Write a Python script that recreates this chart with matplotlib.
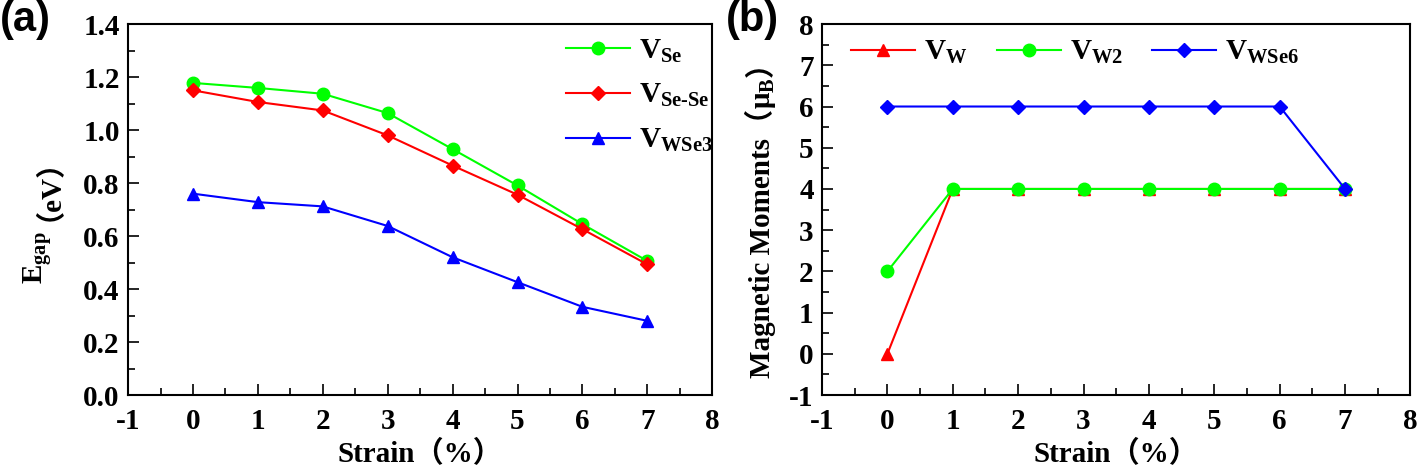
import numpy as np
import matplotlib
matplotlib.use("Agg")
import matplotlib.pyplot as plt
from matplotlib.ticker import MultipleLocator, FormatStrFormatter

plt.rcParams["font.family"] = ["Liberation Serif", "Noto Sans CJK SC"]
plt.rcParams["font.weight"] = "bold"
plt.rcParams["axes.unicode_minus"] = False
plt.rcParams["mathtext.fontset"] = "custom"
plt.rcParams["mathtext.rm"] = "Liberation Serif:bold"
plt.rcParams["mathtext.bf"] = "Liberation Serif:bold"
plt.rcParams["mathtext.it"] = "Liberation Serif:bold"

# ---- data ----
strain = [0, 1, 2, 3, 4, 5, 6, 7]

# (a) band gap (eV)
gap_vse = [1.178, 1.159, 1.137, 1.064, 0.928, 0.791, 0.645, 0.506]
gap_vsese = [1.150, 1.106, 1.074, 0.980, 0.866, 0.756, 0.626, 0.493]
gap_vwse3 = [0.760, 0.728, 0.712, 0.638, 0.520, 0.426, 0.333, 0.280]

# (b) magnetic moments (muB)
mm_vw = [0, 4, 4, 4, 4, 4, 4, 4]
mm_vw2 = [2, 4, 4, 4, 4, 4, 4, 4]
mm_vwse6 = [6, 6, 6, 6, 6, 6, 6, 4]

GREEN, RED, BLUE = "#00ff00", "#ff0000", "#0000ff"
TICK_FS = 21
LAB_FS = 21
LEG_FS = 21


def style_axes(ax, ymaj, ymin):
    ax.set_xlim(-1, 8)
    ax.xaxis.set_major_locator(MultipleLocator(1))
    ax.xaxis.set_minor_locator(MultipleLocator(0.5))
    ax.yaxis.set_major_locator(MultipleLocator(ymaj))
    ax.yaxis.set_minor_locator(MultipleLocator(ymin))
    ax.tick_params(which="both", direction="in", top=False, right=False,
                   labelsize=TICK_FS, width=1.2)
    ax.tick_params(which="major", length=8)
    ax.tick_params(which="minor", length=5)
    ax.tick_params(axis="x", pad=9)
    ax.tick_params(axis="y", pad=6)
    for s in ax.spines.values():
        s.set_linewidth(1.5)
    ax.set_xlabel("Strain（%）", fontsize=LAB_FS, fontweight="bold", labelpad=4)


def stacked_ylabel(ax, pieces, x, y0):
    """rotated label built from pieces sharing one baseline; (text, gap_pts)"""
    kw = dict(rotation=90, rotation_mode="anchor", ha="left", va="baseline",
              fontsize=LAB_FS, fontweight="bold")
    t = ax.text(x, y0, pieces[0][0], transform=ax.transAxes, **kw)
    for p, gap in pieces[1:]:
        t = ax.annotate(p, xy=(x, 1.0), xycoords=(ax.transAxes, t),
                        xytext=(0, gap), textcoords="offset points", **kw)
    return t


fig = plt.figure(figsize=(14.18, 4.72), dpi=100)
ax1 = fig.add_axes([0.0903, 0.163, 0.412, 0.786])
ax2 = fig.add_axes([0.5797, 0.163, 0.415, 0.786])

# ---- (a) ----
ax1.plot(strain, gap_vse, "-o", color=GREEN, lw=1.5, ms=9, label=r"$\mathbf{V}_{\mathbf{Se}}$")
ax1.plot(strain, gap_vsese, "-D", color=RED, lw=1.5, ms=7.5, label=r"$\mathbf{V}_{\mathbf{Se\text{-}Se}}$")
ax1.plot(strain, gap_vwse3, "-^", color=BLUE, lw=1.5, ms=9, label=r"$\mathbf{V}_{\mathbf{WSe3}}$")
ax1.set_ylim(0.0, 1.4)
style_axes(ax1, 0.2, 0.1)
ax1.yaxis.set_major_formatter(FormatStrFormatter("%.1f"))
ax1.legend(loc="upper left", bbox_to_anchor=(0.705, 1.035), frameon=False,
           fontsize=LEG_FS, handlelength=2.2, labelspacing=0.6, handletextpad=0.3)
stacked_ylabel(ax1, [(r"$\mathbf{E}_{\mathbf{gap}}$", 0), ("（eV）", 7)], -0.1455, 0.30)

# ---- (b) ----
ax2.plot(strain, mm_vw, "-^", color=RED, lw=1.5, ms=9, label=r"$\mathbf{V}_{\mathbf{W}}$")
ax2.plot(strain, mm_vw2, "-o", color=GREEN, lw=1.5, ms=9, label=r"$\mathbf{V}_{\mathbf{W2}}$")
ax2.plot(strain, mm_vwse6, "-D", color=BLUE, lw=1.5, ms=7.5, label=r"$\mathbf{V}_{\mathbf{WSe6}}$")
ax2.set_ylim(-1, 8)
style_axes(ax2, 1, 0.5)
ax2.legend(loc="upper left", bbox_to_anchor=(0.005, 1.03), frameon=False, ncol=3,
           fontsize=LEG_FS, handlelength=2.2, handletextpad=0.3, columnspacing=1.0)
stacked_ylabel(ax2, [("Magnetic Moments（", 0), (r"$\mathbf{μ}_{\mathbf{B}}$", 0),
                     ("）", 0)], -0.088, 0.045)

# panel labels
fig.text(0.0, 1.0, "(a)", fontsize=30, fontweight="bold", family="Liberation Sans",
         ha="left", va="top")
fig.text(0.512, 1.0, "(b)", fontsize=30, fontweight="bold", family="Liberation Sans",
         ha="left", va="top")

fig.savefig("out.png", dpi=100)
